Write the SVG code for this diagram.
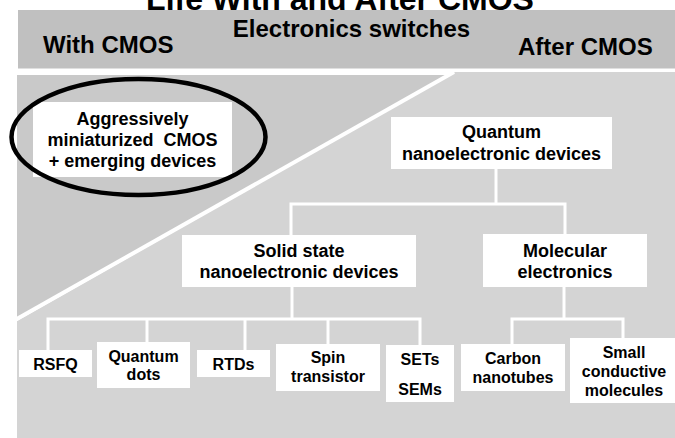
<svg xmlns="http://www.w3.org/2000/svg" width="675" height="438" viewBox="0 0 675 438">
<style>
text{font-family:"Liberation Sans",Arial,sans-serif;font-weight:bold;fill:#000;text-anchor:middle}
.h{font-size:24px}
.n{font-size:18px}
.s{font-size:16px}
.box{fill:#fff}
.c{stroke:#fff;stroke-width:3;fill:none}
</style>
<rect width="675" height="438" fill="#fff"/>
<text x="340" y="10" style="font-size:32px">Life With and After CMOS</text>
<g id="header">
<rect x="18" y="10" width="657" height="58.5" fill="#c0c0c0"/>
<text class="h" x="351.5" y="37">Electronics switches</text>
<text class="h" x="43" y="53" style="text-anchor:start">With CMOS</text>
<text class="h" x="518" y="55" style="text-anchor:start">After CMOS</text>
</g>
<g id="regions">
<polygon points="17,75 449,75 17,318" fill="#c9c9c9"/>
<polygon points="17,321 455,72 675,72 675,438 17,438" fill="#d4d4d4"/>
<line x1="15" y1="320" x2="454" y2="72" stroke="#fff" stroke-width="4"/>
</g>
<g id="connectors">
<polyline class="c" points="496,169 496,204"/>
<polyline class="c" points="291,235 291,204 565,204 565,234"/>
<polyline class="c" points="292,287 292,319"/>
<polyline class="c" points="48,350 48,319 420,319 420,345"/>
<line class="c" x1="147" y1="319" x2="147" y2="342"/>
<line class="c" x1="245" y1="319" x2="245" y2="350"/>
<line class="c" x1="328" y1="319" x2="328" y2="344"/>
<polyline class="c" points="564,287 564,319"/>
<polyline class="c" points="512,344 512,319 623,319 623,338"/>
</g>
<g id="aggressive">
<rect class="box" x="33" y="102" width="199" height="75"/>
<ellipse cx="138.5" cy="137" rx="127" ry="58" fill="none" stroke="#000" stroke-width="4.5"/>
<text class="n" x="132.5" y="125">Aggressively</text>
<text class="n" x="132.5" y="146" xml:space="preserve">miniaturized  CMOS</text>
<text class="n" x="132.5" y="167">+ emerging devices</text>
</g>
<g id="quantum">
<rect class="box" x="391" y="117" width="221" height="52"/>
<text class="n" x="501.5" y="138">Quantum</text>
<text class="n" x="501.5" y="160">nanoelectronic devices</text>
</g>
<g id="solid">
<rect class="box" x="182" y="235" width="234" height="52"/>
<text class="n" x="299" y="257">Solid state</text>
<text class="n" x="299" y="278">nanoelectronic devices</text>
</g>
<g id="molecular">
<rect class="box" x="483" y="234" width="164" height="53"/>
<text class="n" x="565" y="257">Molecular</text>
<text class="n" x="565" y="278">electronics</text>
</g>
<g id="rsfq">
<rect class="box" x="19" y="350" width="73" height="27"/>
<text class="s" x="55.5" y="369.5">RSFQ</text>
</g>
<g id="qdots">
<rect class="box" x="97" y="342" width="93" height="46"/>
<text class="s" x="143.5" y="362">Quantum</text>
<text class="s" x="143.5" y="380">dots</text>
</g>
<g id="rtds">
<rect class="box" x="197" y="350" width="73" height="27"/>
<text class="s" x="233.5" y="369.5">RTDs</text>
</g>
<g id="spin">
<rect class="box" x="276" y="344" width="104" height="47"/>
<text class="s" x="328" y="363">Spin</text>
<text class="s" x="328" y="382">transistor</text>
</g>
<g id="sets">
<rect class="box" x="386" y="345" width="68" height="57"/>
<text class="s" x="420" y="365">SETs</text>
<text class="s" x="420" y="395">SEMs</text>
</g>
<g id="carbon">
<rect class="box" x="461" y="344" width="104" height="47"/>
<text class="s" x="513" y="364">Carbon</text>
<text class="s" x="513" y="383">nanotubes</text>
</g>
<g id="small">
<rect class="box" x="570" y="338" width="105" height="65"/>
<text class="s" x="624" y="358">Small</text>
<text class="s" x="624" y="377">conductive</text>
<text class="s" x="624" y="396">molecules</text>
</g>
</svg>
